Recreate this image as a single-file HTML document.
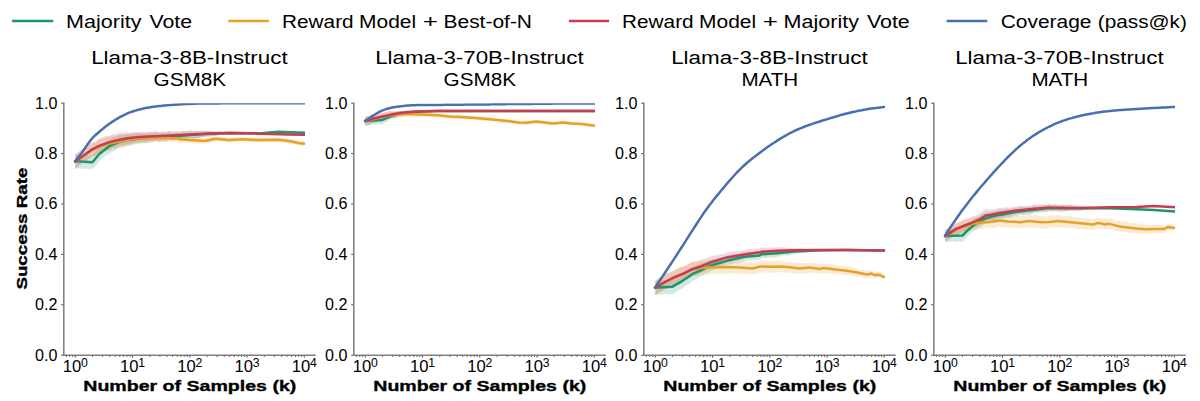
<!DOCTYPE html>
<html lang="en"><head><meta charset="utf-8"><title>Success rate vs number of samples</title>
<style>
html,body{margin:0;padding:0;background:#fff;}
body{width:1200px;height:401px;overflow:hidden;}
svg{display:block;}
text{font-family:"Liberation Sans",sans-serif;fill:#000;}
.lg{font-size:18.9px;}
.tt{font-size:18.9px;text-anchor:middle;}
.tk{font-size:15.8px;}
.sup{font-size:11.9px;}
.lb{font-size:15.2px;font-weight:bold;text-anchor:middle;stroke:#000;stroke-width:0.35px;}
</style></head><body>
<svg width="1200" height="401" viewBox="0 0 1200 401">
<rect width="1200" height="401" fill="#fff"/>
<g id="legend">
<line x1="12.1" y1="21.05" x2="53.3" y2="21.05" stroke="#1c966c" stroke-width="2.5"/>
<text class="lg" y="27.5" xml:space="default"><tspan x="66.1" textLength="75.4" lengthAdjust="spacingAndGlyphs">Majority</tspan> <tspan x="149.4" textLength="42.7" lengthAdjust="spacingAndGlyphs">Vote</tspan></text>
<line x1="228.35" y1="21.05" x2="269.05" y2="21.05" stroke="#e6a128" stroke-width="2.5"/>
<text class="lg" y="27.5" xml:space="default"><tspan x="282.1" textLength="71.5" lengthAdjust="spacingAndGlyphs">Reward</tspan> <tspan x="359.1" textLength="57.1" lengthAdjust="spacingAndGlyphs">Model</tspan> <tspan x="422.8" textLength="15.2" lengthAdjust="spacingAndGlyphs">+</tspan> <tspan x="443.5" textLength="88.5" lengthAdjust="spacingAndGlyphs">Best-of-N</tspan></text>
<line x1="568.85" y1="21.05" x2="609.05" y2="21.05" stroke="#c83c53" stroke-width="2.5"/>
<text class="lg" y="27.5" xml:space="default"><tspan x="622.1" textLength="71.5" lengthAdjust="spacingAndGlyphs">Reward</tspan> <tspan x="699.1" textLength="57.1" lengthAdjust="spacingAndGlyphs">Model</tspan> <tspan x="762.8" textLength="15.2" lengthAdjust="spacingAndGlyphs">+</tspan> <tspan x="783.6" textLength="75.4" lengthAdjust="spacingAndGlyphs">Majority</tspan> <tspan x="866.9" textLength="42.9" lengthAdjust="spacingAndGlyphs">Vote</tspan></text>
<line x1="946.6" y1="21.05" x2="987.3" y2="21.05" stroke="#4870b0" stroke-width="2.5"/>
<text class="lg" y="27.5" xml:space="default"><tspan x="1000.7" textLength="90.8" lengthAdjust="spacingAndGlyphs">Coverage</tspan> <tspan x="1097.8" textLength="89.1" lengthAdjust="spacingAndGlyphs">(pass@k)</tspan></text>
</g>
<g id="panel1">
<clipPath id="cp0"><rect x="63.8" y="103.2" width="252" height="252.0"/></clipPath>
<text class="tt" x="189.4" y="64.4" textLength="196.5" lengthAdjust="spacingAndGlyphs">Llama-3-8B-Instruct</text>
<text class="tt" x="189.8" y="86.1" textLength="72.6" lengthAdjust="spacingAndGlyphs">GSM8K</text>
<g clip-path="url(#cp0)" fill="none" stroke-linejoin="round" stroke-linecap="square">
<path d="M75.3,154.7 L78.7,154.3 L82.1,154.9 L85.5,154.2 L89.0,155.3 L92.4,155.1 L96.0,151.6 L99.6,146.4 L102.9,144.3 L106.2,141.1 L109.5,139.4 L112.8,137.5 L116.2,136.7 L119.5,134.9 L123.5,135.0 L127.5,133.9 L131.4,134.2 L135.4,133.2 L139.4,133.4 L142.7,133.3 L146.1,133.5 L149.4,132.7 L152.7,132.7 L156.0,132.1 L159.3,132.8 L162.7,132.2 L166.0,132.6 L169.3,131.5 L172.6,132.2 L175.9,131.7 L179.3,132.4 L182.7,131.4 L186.2,131.6 L189.6,130.8 L192.9,131.5 L196.3,131.1 L199.6,131.2 L202.9,130.7 L206.2,131.0 L209.6,131.2 L212.9,131.5 L216.2,131.5 L219.6,131.4 L222.9,131.7 L226.2,131.7 L229.6,131.9 L232.9,131.7 L236.2,131.9 L239.6,131.8 L242.9,132.2 L246.2,132.1 L249.5,132.5 L252.9,132.2 L256.2,132.5 L259.5,132.5 L262.9,132.4 L266.2,132.0 L269.5,131.8 L272.9,131.4 L276.2,131.3 L279.5,131.1 L282.8,131.3 L286.2,131.4 L289.5,131.5 L293.1,131.7 L296.7,131.9 L300.3,132.1 L303.8,132.2 L303.8,133.3 L300.3,133.3 L296.7,133.1 L293.1,133.0 L289.5,132.8 L286.2,132.7 L282.8,132.7 L279.5,132.5 L276.2,132.8 L272.9,132.9 L269.5,133.3 L266.2,133.6 L262.9,134.1 L259.5,134.1 L256.2,134.3 L252.9,134.1 L249.5,134.5 L246.2,134.3 L242.9,134.5 L239.6,134.2 L236.2,134.5 L232.9,134.4 L229.6,134.8 L226.2,134.6 L222.9,134.9 L219.6,135.1 L216.2,135.8 L212.9,136.3 L209.6,136.5 L206.2,136.8 L202.9,137.0 L199.6,138.1 L196.3,138.2 L192.9,138.8 L189.6,138.3 L186.2,139.2 L182.7,139.2 L179.3,140.5 L175.9,139.9 L172.6,140.6 L169.3,140.1 L166.0,141.3 L162.7,141.1 L159.3,141.8 L156.0,141.3 L152.7,142.1 L149.4,142.2 L146.1,143.2 L142.7,143.2 L139.4,143.5 L135.4,143.8 L131.4,145.4 L127.5,145.6 L123.5,147.3 L119.5,147.8 L116.2,150.1 L112.8,151.4 L109.5,153.4 L106.2,155.1 L102.9,158.3 L99.6,160.4 L96.0,165.6 L92.4,169.1 L89.0,169.3 L85.5,168.2 L82.1,168.9 L78.7,168.3 L75.3,168.7Z" fill="#1c966c" fill-opacity="0.2" stroke="none"/>
<path d="M75.3,154.8 L79.4,151.4 L83.6,148.6 L87.6,146.0 L91.5,143.4 L95.5,142.0 L99.5,139.1 L102.8,138.6 L106.1,137.0 L109.4,136.9 L112.7,135.7 L116.0,135.6 L119.4,134.5 L122.7,134.7 L126.0,134.3 L129.3,134.1 L132.6,133.7 L135.9,133.2 L139.2,133.3 L142.5,133.4 L145.8,133.9 L149.2,133.2 L152.5,133.5 L155.8,132.9 L159.1,133.9 L162.4,133.6 L165.7,134.3 L169.0,133.6 L172.3,134.4 L175.6,134.3 L179.0,135.3 L179.3,136.1 L182.6,135.7 L185.9,136.3 L189.2,136.1 L192.4,137.0 L195.6,137.3 L198.8,137.5 L201.9,137.7 L205.1,137.5 L208.4,137.6 L211.7,136.5 L215.0,136.4 L218.5,135.9 L222.0,136.8 L225.5,136.7 L229.0,137.9 L232.4,137.0 L235.9,137.2 L239.4,136.4 L242.9,137.0 L246.0,136.8 L249.2,137.5 L252.4,136.9 L255.6,137.4 L258.8,137.4 L262.1,137.7 L265.4,137.6 L268.7,137.3 L272.0,137.2 L275.3,137.1 L278.6,137.5 L282.6,137.9 L286.6,138.1 L290.5,138.9 L294.5,139.5 L298.5,140.9 L303.8,141.0 L303.8,145.8 L298.5,145.7 L294.5,144.3 L290.5,143.7 L286.6,143.0 L282.6,142.8 L278.6,142.4 L275.3,142.0 L272.0,142.2 L268.7,142.3 L265.4,142.6 L262.1,142.7 L258.8,142.4 L255.6,142.4 L252.4,142.0 L249.2,142.6 L246.0,141.9 L242.9,142.2 L239.4,141.5 L235.9,142.4 L232.4,142.3 L229.0,143.1 L225.5,142.0 L222.0,142.1 L218.5,141.3 L215.0,141.9 L211.7,142.2 L208.4,143.4 L205.1,143.5 L201.9,143.9 L198.8,143.8 L195.6,143.8 L192.4,143.6 L189.2,142.9 L185.9,143.2 L182.6,142.8 L179.3,143.5 L179.0,142.7 L175.6,141.9 L172.3,142.2 L169.0,141.5 L165.7,142.5 L162.4,141.9 L159.1,142.5 L155.8,141.7 L152.5,142.5 L149.2,142.4 L145.8,143.3 L142.5,143.1 L139.2,143.5 L135.9,143.8 L132.6,144.8 L129.3,145.7 L126.0,146.3 L122.7,147.1 L119.4,147.5 L116.0,149.0 L112.7,149.6 L109.4,150.9 L106.1,151.0 L102.8,152.6 L99.5,153.1 L95.5,156.0 L91.5,157.4 L87.6,160.0 L83.6,162.6 L79.4,165.4 L75.3,168.8Z" fill="#e6a128" fill-opacity="0.2" stroke="none"/>
<path d="M75.3,154.8 L79.4,151.3 L83.6,148.4 L87.6,145.5 L91.6,142.6 L95.6,141.2 L99.6,138.2 L102.9,137.6 L106.2,135.9 L109.5,135.7 L112.8,134.3 L116.2,134.1 L119.5,132.8 L122.8,133.0 L126.1,132.6 L129.5,132.5 L132.8,132.0 L136.1,131.7 L139.4,131.8 L142.7,131.8 L146.1,132.1 L149.4,131.5 L152.7,131.6 L156.0,131.1 L159.3,132.0 L162.7,131.3 L166.0,131.7 L169.3,130.7 L172.6,131.4 L175.9,130.9 L179.3,131.6 L182.7,130.7 L186.2,131.0 L189.6,130.3 L192.9,131.1 L196.3,130.7 L199.6,130.9 L202.9,130.4 L206.2,130.7 L209.6,131.0 L212.9,131.3 L216.2,131.4 L219.6,131.2 L222.9,131.6 L226.2,131.5 L229.6,131.8 L232.9,131.6 L236.2,131.9 L239.6,131.7 L242.9,132.2 L246.2,132.1 L249.5,132.5 L252.9,132.3 L256.2,132.7 L259.5,132.7 L262.9,133.1 L266.2,133.1 L269.5,133.3 L272.9,133.2 L276.2,133.5 L279.5,133.6 L282.8,133.7 L286.2,133.7 L289.5,133.8 L293.1,133.9 L296.7,134.1 L300.3,134.2 L303.8,134.2 L303.8,135.3 L300.3,135.3 L296.7,135.3 L293.1,135.2 L289.5,135.1 L286.2,135.1 L282.8,135.1 L279.5,135.0 L276.2,134.9 L272.9,134.7 L269.5,134.8 L266.2,134.7 L262.9,134.7 L259.5,134.4 L256.2,134.4 L252.9,134.2 L249.5,134.5 L246.2,134.3 L242.9,134.5 L239.6,134.1 L236.2,134.4 L232.9,134.3 L229.6,134.7 L226.2,134.5 L222.9,134.8 L219.6,135.0 L216.2,135.6 L212.9,136.1 L209.6,136.3 L206.2,136.6 L202.9,136.7 L199.6,137.7 L196.3,137.8 L192.9,138.4 L189.6,137.8 L186.2,138.6 L182.7,138.5 L179.3,139.7 L175.9,139.1 L172.6,139.7 L169.3,139.2 L166.0,140.4 L162.7,140.2 L159.3,141.0 L156.0,140.3 L152.7,141.0 L149.4,141.0 L146.1,141.9 L142.7,141.7 L139.4,141.9 L136.1,142.3 L132.8,143.0 L129.5,144.0 L126.1,144.6 L122.8,145.5 L119.5,145.7 L116.2,147.4 L112.8,148.2 L109.5,149.7 L106.2,149.9 L102.9,151.6 L99.6,152.2 L95.6,155.2 L91.6,156.6 L87.6,159.5 L83.6,162.4 L79.4,165.3 L75.3,168.8Z" fill="#c83c53" fill-opacity="0.2" stroke="none"/>
<path d="M75.3,161.2 L92.4,162.2 L99.6,153.8 L109.5,145.9 L119.5,141.9 L127.5,139.9 L139.4,138.5 L159.3,136.9 L179.3,135.9 L189.6,135.0 L209.6,133.8 L229.6,133.1 L249.5,133.3 L259.5,133.4 L269.5,132.5 L279.5,131.8 L289.5,132.2 L303.8,132.8" stroke="#1c966c" stroke-width="2.5"/>
<path d="M75.3,161.2 L83.6,155.7 L91.5,150.5 L99.5,146.5 L109.4,143.4 L119.4,141.5 L129.3,139.6 L139.2,138.4 L159.1,137.7 L179.0,138.5 L179.3,139.2 L189.2,139.9 L205.1,141.0 L215.0,138.7 L229.0,140.0 L242.9,139.3 L258.8,140.1 L278.6,139.7 L290.5,141.3 L298.5,142.9 L303.8,143.5" stroke="#e6a128" stroke-width="2.5"/>
<path d="M75.3,161.2 L83.6,155.5 L91.6,149.7 L99.6,145.7 L109.5,142.1 L119.5,139.8 L129.5,137.9 L139.4,136.9 L159.3,136.0 L179.3,135.1 L189.6,134.5 L209.6,133.6 L229.6,133.0 L249.5,133.3 L269.5,134.0 L289.5,134.5 L303.8,134.8" stroke="#c83c53" stroke-width="2.5"/>
<path d="M75.3,161.2 L77.3,158.6 L79.3,156.0 L81.3,153.4 L83.3,150.6 L85.3,147.7 L87.3,144.8 L89.3,142.0 L91.3,139.4 L93.3,137.2 L95.3,135.2 L97.3,133.5 L99.3,131.7 L101.3,130.1 L103.3,128.4 L105.3,126.8 L107.3,125.3 L109.3,123.8 L111.3,122.4 L113.4,121.1 L115.4,119.8 L117.4,118.6 L119.4,117.4 L121.4,116.3 L123.4,115.3 L125.4,114.3 L127.4,113.4 L129.4,112.6 L131.4,111.9 L133.4,111.2 L135.4,110.6 L137.4,110.0 L139.4,109.5 L141.4,109.0 L143.4,108.5 L145.4,108.1 L147.4,107.7 L149.4,107.4 L151.5,107.1 L153.5,106.8 L155.5,106.6 L157.5,106.3 L159.5,106.1 L161.5,105.9 L163.5,105.6 L165.5,105.4 L167.5,105.2 L169.5,105.1 L171.5,104.9 L173.5,104.8 L175.5,104.7 L177.5,104.6 L179.5,104.5 L181.5,104.3 L183.5,104.2 L185.5,104.1 L187.5,103.9 L189.5,103.9 L191.6,103.8 L193.6,103.7 L195.6,103.7 L197.6,103.6 L199.6,103.6 L201.6,103.5 L203.6,103.5 L205.6,103.5 L207.6,103.5 L209.6,103.4 L211.6,103.4 L213.6,103.4 L215.6,103.4 L217.6,103.4 L219.6,103.4 L221.6,103.3 L223.6,103.3 L225.6,103.3 L227.6,103.3 L229.7,103.3 L231.7,103.3 L233.7,103.3 L235.7,103.3 L237.7,103.3 L239.7,103.3 L241.7,103.3 L243.7,103.3 L245.7,103.3 L247.7,103.3 L249.7,103.3 L251.7,103.3 L253.7,103.3 L255.7,103.3 L257.7,103.3 L259.7,103.3 L261.7,103.3 L263.7,103.3 L265.7,103.3 L267.8,103.2 L269.8,103.2 L271.8,103.2 L273.8,103.2 L275.8,103.2 L277.8,103.2 L279.8,103.2 L281.8,103.2 L283.8,103.2 L285.8,103.2 L287.8,103.2 L289.8,103.2 L291.8,103.2 L293.8,103.2 L295.8,103.2 L297.8,103.2 L299.8,103.2 L301.8,103.2 L303.8,103.2" stroke="#4870b0" stroke-width="2.5"/>
</g>
<line x1="63.8" y1="102.50" x2="63.8" y2="355.98" stroke="#808080" stroke-width="1.55"/>
<line x1="63.02" y1="355.2" x2="315.80" y2="355.2" stroke="#808080" stroke-width="1.55"/>
<line x1="61.2" y1="355.20" x2="63.1" y2="355.20" stroke="#222" stroke-width="0.8"/>
<text class="tk" x="35.1" y="360.6" textLength="22.4" lengthAdjust="spacingAndGlyphs">0.0</text>
<line x1="61.2" y1="304.80" x2="63.1" y2="304.80" stroke="#222" stroke-width="0.8"/>
<text class="tk" x="35.1" y="310.2" textLength="22.4" lengthAdjust="spacingAndGlyphs">0.2</text>
<line x1="61.2" y1="254.40" x2="63.1" y2="254.40" stroke="#222" stroke-width="0.8"/>
<text class="tk" x="35.1" y="259.8" textLength="22.4" lengthAdjust="spacingAndGlyphs">0.4</text>
<line x1="61.2" y1="204.00" x2="63.1" y2="204.00" stroke="#222" stroke-width="0.8"/>
<text class="tk" x="35.1" y="209.4" textLength="22.4" lengthAdjust="spacingAndGlyphs">0.6</text>
<line x1="61.2" y1="153.60" x2="63.1" y2="153.60" stroke="#222" stroke-width="0.8"/>
<text class="tk" x="35.1" y="159.0" textLength="22.4" lengthAdjust="spacingAndGlyphs">0.8</text>
<line x1="61.2" y1="103.20" x2="63.1" y2="103.20" stroke="#222" stroke-width="0.8"/>
<text class="tk" x="35.1" y="108.6" textLength="22.4" lengthAdjust="spacingAndGlyphs">1.0</text>
<line x1="75.3" y1="355.90" x2="75.3" y2="357.60" stroke="#222" stroke-width="0.8"/>
<text class="tk" x="62.8" y="372.4" textLength="18.5" lengthAdjust="spacingAndGlyphs">10</text>
<text class="sup" x="81.0" y="366.7" textLength="6.8" lengthAdjust="spacingAndGlyphs">0</text>
<line x1="132.5" y1="355.90" x2="132.5" y2="357.60" stroke="#222" stroke-width="0.8"/>
<text class="tk" x="120.0" y="372.4" textLength="18.5" lengthAdjust="spacingAndGlyphs">10</text>
<text class="sup" x="138.2" y="366.7" textLength="6.8" lengthAdjust="spacingAndGlyphs">1</text>
<line x1="189.8" y1="355.90" x2="189.8" y2="357.60" stroke="#222" stroke-width="0.8"/>
<text class="tk" x="177.3" y="372.4" textLength="18.5" lengthAdjust="spacingAndGlyphs">10</text>
<text class="sup" x="195.5" y="366.7" textLength="6.8" lengthAdjust="spacingAndGlyphs">2</text>
<line x1="247.1" y1="355.90" x2="247.1" y2="357.60" stroke="#222" stroke-width="0.8"/>
<text class="tk" x="234.6" y="372.4" textLength="18.5" lengthAdjust="spacingAndGlyphs">10</text>
<text class="sup" x="252.8" y="366.7" textLength="6.8" lengthAdjust="spacingAndGlyphs">3</text>
<line x1="304.3" y1="355.90" x2="304.3" y2="357.60" stroke="#222" stroke-width="0.8"/>
<text class="tk" x="291.8" y="372.4" textLength="18.5" lengthAdjust="spacingAndGlyphs">10</text>
<text class="sup" x="310.0" y="366.7" textLength="6.8" lengthAdjust="spacingAndGlyphs">4</text>
<path d="M66.4,355.90v1.1M69.7,355.90v1.1M72.6,355.90v1.1M92.5,355.90v1.1M102.6,355.90v1.1M109.7,355.90v1.1M115.3,355.90v1.1M119.8,355.90v1.1M123.7,355.90v1.1M127.0,355.90v1.1M129.9,355.90v1.1M149.8,355.90v1.1M159.9,355.90v1.1M167.0,355.90v1.1M172.6,355.90v1.1M177.1,355.90v1.1M180.9,355.90v1.1M184.2,355.90v1.1M187.2,355.90v1.1M207.0,355.90v1.1M217.1,355.90v1.1M224.3,355.90v1.1M229.8,355.90v1.1M234.4,355.90v1.1M238.2,355.90v1.1M241.5,355.90v1.1M244.5,355.90v1.1M264.3,355.90v1.1M274.4,355.90v1.1M281.6,355.90v1.1M287.1,355.90v1.1M291.6,355.90v1.1M295.5,355.90v1.1M298.8,355.90v1.1M301.7,355.90v1.1" stroke="#222" stroke-width="0.7" fill="none"/>
<text class="lb" x="189.8" y="391.4" textLength="213" lengthAdjust="spacingAndGlyphs">Number of Samples (k)</text>
</g>
<g id="panel2">
<clipPath id="cp1"><rect x="353.8" y="103.2" width="252" height="252.0"/></clipPath>
<text class="tt" x="479.4" y="64.4" textLength="208.5" lengthAdjust="spacingAndGlyphs">Llama-3-70B-Instruct</text>
<text class="tt" x="479.8" y="86.1" textLength="72.6" lengthAdjust="spacingAndGlyphs">GSM8K</text>
<g clip-path="url(#cp1)" fill="none" stroke-linejoin="round" stroke-linecap="square">
<path d="M365.3,116.4 L368.7,116.8 L372.1,115.7 L375.5,116.2 L379.0,115.7 L382.4,116.5 L386.7,114.1 L391.1,112.6 L395.4,112.2 L399.8,111.0 L402.9,111.3 L406.0,110.5 L409.1,110.6 L412.2,110.4 L415.3,110.4 L418.4,110.4 L421.5,110.0 L424.6,110.1 L427.7,109.9 L430.8,110.3 L433.9,110.2 L437.0,110.3 L440.2,110.3 L443.4,110.4 L446.6,110.5 L449.7,110.5 L452.9,110.6 L456.1,110.4 L459.3,110.5 L459.5,110.5 L462.6,110.5 L465.6,110.6 L468.7,110.5 L471.8,110.6 L474.8,110.5 L477.9,110.5 L480.9,110.6 L484.0,110.6 L487.0,110.7 L490.1,110.5 L493.1,110.6 L496.2,110.6 L499.2,110.7 L502.3,110.7 L505.3,110.6 L508.4,110.7 L511.4,110.6 L514.5,110.7 L517.5,110.7 L520.6,110.7 L523.6,110.7 L526.7,110.7 L529.7,110.7 L532.8,110.7 L535.9,110.8 L538.9,110.7 L542.0,110.7 L545.0,110.7 L548.1,110.7 L551.1,110.8 L554.2,110.8 L557.2,110.8 L560.3,110.7 L563.3,110.8 L566.4,110.8 L569.4,110.8 L572.5,110.8 L575.5,110.8 L578.6,110.8 L581.6,110.8 L584.7,110.9 L587.7,110.8 L590.8,110.9 L593.8,110.8 L593.8,111.2 L590.8,111.2 L587.7,111.2 L584.7,111.3 L581.6,111.2 L578.6,111.3 L575.5,111.2 L572.5,111.3 L569.4,111.3 L566.4,111.3 L563.3,111.3 L560.3,111.2 L557.2,111.3 L554.2,111.3 L551.1,111.4 L548.1,111.3 L545.0,111.3 L542.0,111.4 L538.9,111.3 L535.9,111.4 L532.8,111.3 L529.7,111.4 L526.7,111.3 L523.6,111.4 L520.6,111.4 L517.5,111.4 L514.5,111.5 L511.4,111.3 L508.4,111.4 L505.3,111.4 L502.3,111.5 L499.2,111.5 L496.2,111.4 L493.1,111.5 L490.1,111.4 L487.0,111.6 L484.0,111.5 L480.9,111.5 L477.9,111.4 L474.8,111.5 L471.8,111.5 L468.7,111.5 L465.6,111.6 L462.6,111.5 L459.5,111.6 L459.3,111.5 L456.1,111.5 L452.9,111.6 L449.7,111.6 L446.6,111.6 L443.4,111.6 L440.2,111.7 L437.0,111.9 L433.9,112.0 L430.8,112.2 L427.7,112.1 L424.6,112.4 L421.5,112.5 L418.4,113.1 L415.3,113.3 L412.2,113.4 L409.1,114.1 L406.0,114.6 L402.9,115.9 L399.8,116.2 L395.4,118.2 L391.1,119.3 L386.7,121.7 L382.4,124.6 L379.0,124.0 L375.5,124.7 L372.1,124.4 L368.7,125.6 L365.3,125.4Z" fill="#1c966c" fill-opacity="0.2" stroke="none"/>
<path d="M365.3,116.4 L368.5,116.3 L371.7,114.6 L374.9,114.5 L378.7,113.3 L382.4,113.3 L386.7,112.0 L391.1,111.3 L394.8,111.6 L398.5,111.5 L402.3,111.8 L405.4,111.3 L408.5,111.5 L411.6,111.9 L414.7,111.9 L417.8,112.4 L420.9,111.9 L424.0,112.4 L427.1,112.0 L430.4,112.9 L433.7,112.8 L437.1,113.2 L440.2,113.1 L443.3,113.5 L446.4,114.1 L449.5,114.4 L452.8,114.9 L456.1,114.5 L459.4,115.0 L459.6,114.9 L462.8,114.8 L465.9,115.7 L469.0,115.5 L472.1,115.9 L475.2,115.8 L478.3,116.2 L481.4,116.6 L484.5,116.8 L487.7,117.3 L490.8,117.1 L493.9,117.8 L497.0,117.8 L500.1,118.7 L503.2,118.7 L506.3,119.0 L509.4,119.2 L513.8,120.0 L518.2,120.5 L522.5,120.9 L526.9,120.6 L531.2,120.2 L535.6,120.1 L539.9,120.0 L544.3,120.5 L548.7,121.3 L553.0,121.6 L556.3,121.5 L559.7,120.7 L563.0,120.7 L567.3,121.0 L571.7,121.9 L575.0,121.6 L578.3,122.0 L581.6,121.9 L585.4,123.0 L589.1,123.1 L593.8,123.6 L593.8,127.2 L589.1,126.8 L585.4,126.6 L581.6,125.6 L578.3,125.7 L575.0,125.3 L571.7,125.6 L567.3,124.7 L563.0,124.4 L559.7,124.4 L556.3,125.3 L553.0,125.3 L548.7,125.0 L544.3,124.3 L539.9,123.8 L535.6,123.9 L531.2,124.0 L526.9,124.5 L522.5,124.8 L518.2,124.4 L513.8,123.9 L509.4,123.1 L506.3,122.9 L503.2,122.6 L500.1,122.6 L497.0,121.7 L493.9,121.7 L490.8,121.0 L487.7,121.3 L484.5,120.8 L481.4,120.6 L478.3,120.1 L475.2,119.7 L472.1,119.9 L469.0,119.5 L465.9,119.7 L462.8,118.8 L459.6,118.9 L459.4,119.0 L456.1,118.5 L452.8,119.0 L449.5,118.5 L446.4,118.4 L443.3,117.8 L440.2,117.5 L437.1,117.6 L433.7,117.3 L430.4,117.4 L427.1,116.6 L424.0,117.1 L420.9,116.6 L417.8,117.3 L414.7,116.8 L411.6,116.8 L408.5,116.8 L405.4,116.9 L402.3,117.7 L398.5,117.9 L394.8,118.4 L391.1,118.5 L386.7,119.7 L382.4,121.5 L378.7,121.6 L374.9,123.1 L371.7,123.3 L368.5,125.1 L365.3,125.4Z" fill="#e6a128" fill-opacity="0.2" stroke="none"/>
<path d="M365.3,116.4 L368.5,116.1 L371.7,114.3 L374.9,114.0 L378.7,112.8 L382.4,113.0 L386.7,111.6 L391.1,110.9 L394.8,111.0 L398.5,110.7 L402.2,110.7 L405.3,110.2 L408.4,110.3 L411.5,110.4 L414.6,110.2 L417.8,110.5 L421.0,110.1 L424.2,110.3 L427.4,110.1 L430.6,110.4 L433.8,110.3 L437.0,110.4 L440.2,110.3 L443.4,110.4 L446.6,110.5 L449.7,110.5 L452.9,110.6 L456.1,110.5 L459.3,110.5 L459.5,110.5 L462.6,110.5 L465.6,110.6 L468.7,110.5 L471.8,110.6 L474.8,110.5 L477.9,110.5 L480.9,110.6 L484.0,110.6 L487.0,110.7 L490.1,110.5 L493.1,110.6 L496.2,110.6 L499.2,110.7 L502.3,110.7 L505.3,110.6 L508.4,110.7 L511.4,110.6 L514.5,110.7 L517.5,110.7 L520.6,110.7 L523.6,110.7 L526.7,110.7 L529.7,110.7 L532.8,110.7 L535.9,110.8 L538.9,110.7 L542.0,110.7 L545.0,110.7 L548.1,110.7 L551.1,110.8 L554.2,110.8 L557.2,110.8 L560.3,110.7 L563.3,110.8 L566.4,110.8 L569.4,110.8 L572.5,110.8 L575.5,110.8 L578.6,110.8 L581.6,110.8 L584.7,110.9 L587.7,110.8 L590.8,110.9 L593.8,110.8 L593.8,111.2 L590.8,111.2 L587.7,111.2 L584.7,111.3 L581.6,111.2 L578.6,111.3 L575.5,111.2 L572.5,111.3 L569.4,111.3 L566.4,111.3 L563.3,111.3 L560.3,111.2 L557.2,111.3 L554.2,111.3 L551.1,111.4 L548.1,111.3 L545.0,111.3 L542.0,111.4 L538.9,111.3 L535.9,111.4 L532.8,111.3 L529.7,111.4 L526.7,111.3 L523.6,111.4 L520.6,111.4 L517.5,111.4 L514.5,111.5 L511.4,111.3 L508.4,111.4 L505.3,111.4 L502.3,111.5 L499.2,111.5 L496.2,111.4 L493.1,111.5 L490.1,111.4 L487.0,111.6 L484.0,111.5 L480.9,111.5 L477.9,111.4 L474.8,111.5 L471.8,111.5 L468.7,111.5 L465.6,111.6 L462.6,111.5 L459.5,111.6 L459.3,111.5 L456.1,111.5 L452.9,111.6 L449.7,111.6 L446.6,111.6 L443.4,111.6 L440.2,111.7 L437.0,112.0 L433.8,112.1 L430.6,112.4 L427.4,112.3 L424.2,112.7 L421.0,112.7 L417.8,113.2 L414.6,113.2 L411.5,113.5 L408.4,113.9 L405.3,114.4 L402.2,115.4 L398.5,116.1 L394.8,117.0 L391.1,117.7 L386.7,119.1 L382.4,121.1 L378.7,121.2 L374.9,122.6 L371.7,123.0 L368.5,124.9 L365.3,125.4Z" fill="#c83c53" fill-opacity="0.2" stroke="none"/>
<path d="M365.3,120.9 L382.4,119.9 L391.1,116.2 L399.8,113.7 L412.2,112.0 L424.6,111.2 L437.0,111.0 L459.3,111.0 L459.5,111.0 L593.8,111.0" stroke="#1c966c" stroke-width="2.5"/>
<path d="M365.3,120.9 L374.9,118.7 L382.4,116.8 L391.1,115.2 L402.3,114.3 L414.7,114.3 L427.1,114.7 L437.1,115.2 L449.5,116.5 L459.4,117.0 L459.6,116.9 L472.1,117.8 L484.5,118.8 L497.0,120.0 L509.4,121.2 L518.2,122.5 L526.9,122.8 L535.6,121.6 L544.3,122.5 L553.0,123.5 L563.0,122.5 L571.7,123.5 L581.6,124.0 L589.1,125.0 L593.8,125.6" stroke="#e6a128" stroke-width="2.5"/>
<path d="M365.3,120.9 L374.9,118.2 L382.4,116.5 L391.1,114.6 L402.2,112.7 L414.6,111.7 L437.0,111.1 L459.3,111.0 L459.5,111.0 L593.8,111.0" stroke="#c83c53" stroke-width="2.5"/>
<path d="M365.3,120.9 L367.3,119.5 L369.3,118.2 L371.3,116.9 L373.3,115.6 L375.3,114.2 L377.3,113.0 L379.3,111.8 L381.3,110.9 L383.3,110.1 L385.3,109.4 L387.3,108.7 L389.3,108.2 L391.3,107.7 L393.3,107.3 L395.3,107.0 L397.3,106.7 L399.3,106.4 L401.3,106.2 L403.4,106.0 L405.4,105.8 L407.4,105.6 L409.4,105.5 L411.4,105.3 L413.4,105.2 L415.4,105.2 L417.4,105.1 L419.4,105.1 L421.4,105.1 L423.4,105.0 L425.4,105.0 L427.4,105.0 L429.4,105.0 L431.4,105.0 L433.4,104.9 L435.4,104.9 L437.4,104.9 L439.4,104.9 L441.5,104.9 L443.5,104.8 L445.5,104.8 L447.5,104.8 L449.5,104.8 L451.5,104.8 L453.5,104.7 L455.5,104.7 L457.5,104.7 L459.5,104.7 L461.5,104.7 L463.5,104.7 L465.5,104.6 L467.5,104.6 L469.5,104.6 L471.5,104.6 L473.5,104.6 L475.5,104.5 L477.5,104.5 L479.5,104.5 L481.6,104.5 L483.6,104.4 L485.6,104.4 L487.6,104.4 L489.6,104.4 L491.6,104.3 L493.6,104.3 L495.6,104.3 L497.6,104.3 L499.6,104.2 L501.6,104.2 L503.6,104.2 L505.6,104.2 L507.6,104.1 L509.6,104.1 L511.6,104.1 L513.6,104.1 L515.6,104.0 L517.6,104.0 L519.7,104.0 L521.7,104.0 L523.7,104.0 L525.7,103.9 L527.7,103.9 L529.7,103.9 L531.7,103.9 L533.7,103.8 L535.7,103.8 L537.7,103.8 L539.7,103.8 L541.7,103.8 L543.7,103.7 L545.7,103.7 L547.7,103.7 L549.7,103.7 L551.7,103.7 L553.7,103.6 L555.7,103.6 L557.8,103.6 L559.8,103.6 L561.8,103.6 L563.8,103.6 L565.8,103.6 L567.8,103.5 L569.8,103.5 L571.8,103.5 L573.8,103.5 L575.8,103.5 L577.8,103.5 L579.8,103.5 L581.8,103.5 L583.8,103.4 L585.8,103.4 L587.8,103.4 L589.8,103.4 L591.8,103.4 L593.8,103.4" stroke="#4870b0" stroke-width="2.5"/>
</g>
<line x1="353.8" y1="102.50" x2="353.8" y2="355.98" stroke="#808080" stroke-width="1.55"/>
<line x1="353.02" y1="355.2" x2="605.80" y2="355.2" stroke="#808080" stroke-width="1.55"/>
<line x1="351.2" y1="355.20" x2="353.1" y2="355.20" stroke="#222" stroke-width="0.8"/>
<text class="tk" x="325.1" y="360.6" textLength="22.4" lengthAdjust="spacingAndGlyphs">0.0</text>
<line x1="351.2" y1="304.80" x2="353.1" y2="304.80" stroke="#222" stroke-width="0.8"/>
<text class="tk" x="325.1" y="310.2" textLength="22.4" lengthAdjust="spacingAndGlyphs">0.2</text>
<line x1="351.2" y1="254.40" x2="353.1" y2="254.40" stroke="#222" stroke-width="0.8"/>
<text class="tk" x="325.1" y="259.8" textLength="22.4" lengthAdjust="spacingAndGlyphs">0.4</text>
<line x1="351.2" y1="204.00" x2="353.1" y2="204.00" stroke="#222" stroke-width="0.8"/>
<text class="tk" x="325.1" y="209.4" textLength="22.4" lengthAdjust="spacingAndGlyphs">0.6</text>
<line x1="351.2" y1="153.60" x2="353.1" y2="153.60" stroke="#222" stroke-width="0.8"/>
<text class="tk" x="325.1" y="159.0" textLength="22.4" lengthAdjust="spacingAndGlyphs">0.8</text>
<line x1="351.2" y1="103.20" x2="353.1" y2="103.20" stroke="#222" stroke-width="0.8"/>
<text class="tk" x="325.1" y="108.6" textLength="22.4" lengthAdjust="spacingAndGlyphs">1.0</text>
<line x1="365.3" y1="355.90" x2="365.3" y2="357.60" stroke="#222" stroke-width="0.8"/>
<text class="tk" x="352.8" y="372.4" textLength="18.5" lengthAdjust="spacingAndGlyphs">10</text>
<text class="sup" x="371.0" y="366.7" textLength="6.8" lengthAdjust="spacingAndGlyphs">0</text>
<line x1="422.5" y1="355.90" x2="422.5" y2="357.60" stroke="#222" stroke-width="0.8"/>
<text class="tk" x="410.0" y="372.4" textLength="18.5" lengthAdjust="spacingAndGlyphs">10</text>
<text class="sup" x="428.2" y="366.7" textLength="6.8" lengthAdjust="spacingAndGlyphs">1</text>
<line x1="479.8" y1="355.90" x2="479.8" y2="357.60" stroke="#222" stroke-width="0.8"/>
<text class="tk" x="467.3" y="372.4" textLength="18.5" lengthAdjust="spacingAndGlyphs">10</text>
<text class="sup" x="485.5" y="366.7" textLength="6.8" lengthAdjust="spacingAndGlyphs">2</text>
<line x1="537.1" y1="355.90" x2="537.1" y2="357.60" stroke="#222" stroke-width="0.8"/>
<text class="tk" x="524.6" y="372.4" textLength="18.5" lengthAdjust="spacingAndGlyphs">10</text>
<text class="sup" x="542.8" y="366.7" textLength="6.8" lengthAdjust="spacingAndGlyphs">3</text>
<line x1="594.3" y1="355.90" x2="594.3" y2="357.60" stroke="#222" stroke-width="0.8"/>
<text class="tk" x="581.8" y="372.4" textLength="18.5" lengthAdjust="spacingAndGlyphs">10</text>
<text class="sup" x="600.0" y="366.7" textLength="6.8" lengthAdjust="spacingAndGlyphs">4</text>
<path d="M356.4,355.90v1.1M359.7,355.90v1.1M362.6,355.90v1.1M382.5,355.90v1.1M392.6,355.90v1.1M399.7,355.90v1.1M405.3,355.90v1.1M409.8,355.90v1.1M413.7,355.90v1.1M417.0,355.90v1.1M419.9,355.90v1.1M439.8,355.90v1.1M449.9,355.90v1.1M457.0,355.90v1.1M462.6,355.90v1.1M467.1,355.90v1.1M470.9,355.90v1.1M474.2,355.90v1.1M477.2,355.90v1.1M497.0,355.90v1.1M507.1,355.90v1.1M514.3,355.90v1.1M519.8,355.90v1.1M524.4,355.90v1.1M528.2,355.90v1.1M531.5,355.90v1.1M534.5,355.90v1.1M554.3,355.90v1.1M564.4,355.90v1.1M571.6,355.90v1.1M577.1,355.90v1.1M581.6,355.90v1.1M585.5,355.90v1.1M588.8,355.90v1.1M591.7,355.90v1.1" stroke="#222" stroke-width="0.7" fill="none"/>
<text class="lb" x="479.8" y="391.4" textLength="213" lengthAdjust="spacingAndGlyphs">Number of Samples (k)</text>
</g>
<g id="panel3">
<clipPath id="cp2"><rect x="643.8" y="103.2" width="252" height="252.0"/></clipPath>
<text class="tt" x="769.4" y="64.4" textLength="196.5" lengthAdjust="spacingAndGlyphs">Llama-3-8B-Instruct</text>
<text class="tt" x="769.8" y="86.1" textLength="56.8" lengthAdjust="spacingAndGlyphs">MATH</text>
<g clip-path="url(#cp2)" fill="none" stroke-linejoin="round" stroke-linecap="square">
<path d="M655.3,280.9 L658.7,280.0 L662.1,280.1 L665.6,279.4 L669.0,280.2 L672.5,279.5 L675.8,277.9 L679.2,275.0 L682.6,273.8 L685.7,271.2 L688.9,269.8 L692.1,266.9 L696.5,265.5 L700.8,263.5 L705.2,262.1 L709.5,260.3 L713.0,258.7 L716.5,258.5 L719.9,257.5 L723.4,257.1 L726.9,255.4 L730.4,255.0 L733.9,254.0 L737.3,254.1 L740.8,253.0 L744.3,252.5 L747.3,251.8 L750.4,251.7 L753.4,252.0 L756.5,251.5 L759.5,251.8 L761.7,249.9 L764.7,249.9 L767.8,249.9 L770.8,249.8 L773.9,250.3 L776.9,249.4 L780.4,249.7 L783.8,248.9 L787.3,249.8 L790.8,249.2 L794.3,249.5 L797.5,248.9 L800.8,249.5 L804.1,249.4 L807.3,249.7 L810.6,249.2 L813.8,249.2 L817.1,249.0 L820.4,249.0 L823.6,249.2 L826.9,249.1 L830.2,249.2 L833.4,249.0 L836.7,249.3 L839.9,249.2 L843.2,249.4 L846.5,249.1 L849.6,249.3 L852.7,249.3 L855.8,249.5 L858.9,249.6 L862.0,249.6 L865.2,249.6 L868.3,249.6 L871.4,249.8 L874.5,249.8 L877.6,250.0 L880.7,249.9 L883.8,250.0 L883.8,251.2 L880.7,251.1 L877.6,251.2 L874.5,251.1 L871.4,251.2 L868.3,250.9 L865.2,251.0 L862.0,251.0 L858.9,251.0 L855.8,251.0 L852.7,250.8 L849.6,250.9 L846.5,250.8 L843.2,251.1 L839.9,250.9 L836.7,251.1 L833.4,251.0 L830.2,251.2 L826.9,251.3 L823.6,251.5 L820.4,251.5 L817.1,251.6 L813.8,251.9 L810.6,252.1 L807.3,252.7 L804.1,252.5 L800.8,253.2 L797.5,253.1 L794.3,254.2 L790.8,254.5 L787.3,255.6 L783.8,255.3 L780.4,256.6 L776.9,256.7 L773.9,257.8 L770.8,257.5 L767.8,257.7 L764.7,257.9 L761.7,258.0 L759.5,260.0 L756.5,259.9 L753.4,260.6 L750.4,260.4 L747.3,260.6 L744.3,261.5 L740.8,262.2 L737.3,263.5 L733.9,263.6 L730.4,264.8 L726.9,265.4 L723.4,267.3 L719.9,267.8 L716.5,269.3 L713.0,270.0 L709.5,272.1 L705.2,274.5 L700.8,276.5 L696.5,279.2 L692.1,281.2 L688.9,284.2 L685.7,285.6 L682.6,288.2 L679.2,289.4 L675.8,292.3 L672.5,293.9 L669.0,294.6 L665.6,293.8 L662.1,294.5 L658.7,294.4 L655.3,295.3Z" fill="#1c966c" fill-opacity="0.2" stroke="none"/>
<path d="M655.3,280.9 L658.9,278.1 L662.5,276.3 L666.1,274.0 L670.4,272.3 L674.8,270.3 L679.1,267.4 L683.5,266.2 L687.8,264.4 L692.2,261.9 L696.6,261.7 L700.9,260.9 L705.3,261.2 L709.6,261.1 L713.0,260.2 L716.4,260.7 L719.8,260.5 L723.5,261.2 L727.3,260.5 L731.0,261.0 L734.8,260.7 L738.3,261.9 L741.9,261.4 L745.5,262.1 L749.1,261.6 L752.7,262.8 L756.5,261.4 L760.2,260.8 L763.4,260.1 L766.5,260.9 L769.7,260.6 L773.0,261.5 L776.3,260.6 L779.7,260.9 L783.0,260.6 L786.3,261.7 L789.7,261.7 L793.0,262.5 L796.3,262.4 L799.6,263.0 L803.0,262.9 L806.3,262.9 L809.6,262.6 L813.0,262.7 L816.3,263.5 L819.6,263.9 L823.6,263.5 L827.6,264.0 L831.6,263.9 L835.6,265.2 L839.6,265.4 L844.6,266.3 L847.9,266.5 L851.2,267.3 L854.5,267.8 L857.9,269.2 L861.2,269.3 L864.5,270.3 L868.5,270.4 L871.5,270.4 L874.5,271.7 L879.5,272.0 L883.8,274.2 L883.8,279.3 L879.5,277.7 L874.5,278.1 L871.5,277.3 L868.5,277.8 L864.5,278.0 L861.2,277.1 L857.9,277.1 L854.5,275.9 L851.2,275.6 L847.9,274.9 L844.6,275.0 L839.6,274.3 L835.6,274.2 L831.6,273.2 L827.6,273.4 L823.6,273.1 L819.6,273.6 L816.3,273.4 L813.0,272.8 L809.6,272.8 L806.3,273.2 L803.0,273.4 L799.6,273.7 L796.3,273.2 L793.0,273.4 L789.7,272.7 L786.3,272.8 L783.0,271.9 L779.7,272.4 L776.3,272.2 L773.0,273.1 L769.7,272.4 L766.5,272.8 L763.4,272.1 L760.2,272.8 L756.5,273.5 L752.7,274.9 L749.1,273.8 L745.5,274.3 L741.9,273.7 L738.3,274.3 L734.8,273.1 L731.0,273.6 L727.3,273.1 L723.5,273.9 L719.8,273.4 L716.4,273.8 L713.0,273.5 L709.6,274.5 L705.3,274.8 L700.9,274.8 L696.6,275.8 L692.2,276.2 L687.8,278.8 L683.5,280.6 L679.1,281.8 L674.8,284.7 L670.4,286.7 L666.1,288.4 L662.5,290.7 L658.9,292.5 L655.3,295.3Z" fill="#e6a128" fill-opacity="0.2" stroke="none"/>
<path d="M655.3,280.9 L658.8,278.1 L662.4,276.3 L666.0,274.0 L670.4,272.3 L674.7,270.3 L679.1,267.6 L683.4,266.6 L687.8,264.5 L692.1,261.9 L696.5,261.1 L700.8,259.7 L705.2,258.7 L709.5,257.2 L713.0,255.6 L716.5,255.4 L719.9,254.3 L723.4,253.9 L726.9,252.2 L730.4,251.9 L733.9,251.1 L737.3,251.4 L740.8,250.4 L744.3,250.1 L747.3,249.2 L750.4,249.0 L753.4,249.1 L756.5,248.4 L759.5,248.5 L761.7,247.5 L764.7,247.5 L767.8,247.5 L770.8,247.4 L773.9,247.8 L776.9,246.9 L780.4,247.4 L783.8,246.9 L787.3,248.1 L790.8,247.7 L794.3,248.3 L797.5,247.8 L800.8,248.5 L804.1,248.5 L807.3,249.0 L810.6,248.7 L813.8,248.8 L817.1,248.7 L820.4,248.9 L823.6,249.0 L826.9,249.0 L830.2,249.1 L833.4,249.0 L836.7,249.3 L839.9,249.2 L843.2,249.4 L846.5,249.1 L849.6,249.3 L852.7,249.3 L855.8,249.5 L858.9,249.6 L862.0,249.6 L865.2,249.6 L868.3,249.6 L871.4,249.8 L874.5,249.8 L877.6,250.0 L880.7,249.9 L883.8,250.0 L883.8,251.2 L880.7,251.1 L877.6,251.2 L874.5,251.1 L871.4,251.2 L868.3,250.9 L865.2,251.0 L862.0,251.0 L858.9,251.0 L855.8,251.0 L852.7,250.8 L849.6,250.9 L846.5,250.8 L843.2,251.1 L839.9,250.9 L836.7,251.0 L833.4,250.9 L830.2,251.1 L826.9,251.2 L823.6,251.4 L820.4,251.3 L817.1,251.3 L813.8,251.5 L810.6,251.6 L807.3,252.0 L804.1,251.7 L800.8,252.2 L797.5,252.0 L794.3,253.0 L790.8,253.0 L787.3,253.9 L783.8,253.3 L780.4,254.3 L776.9,254.2 L773.9,255.3 L770.8,255.0 L767.8,255.2 L764.7,255.4 L761.7,255.6 L759.5,256.7 L756.5,256.8 L753.4,257.7 L750.4,257.7 L747.3,258.1 L744.3,259.1 L740.8,259.7 L737.3,260.8 L733.9,260.7 L730.4,261.7 L726.9,262.1 L723.4,264.1 L719.9,264.7 L716.5,266.2 L713.0,266.9 L709.5,269.0 L705.2,271.1 L700.8,272.7 L696.5,274.8 L692.1,276.2 L687.8,278.9 L683.4,281.0 L679.1,282.0 L674.7,284.7 L670.4,286.7 L666.0,288.4 L662.4,290.7 L658.8,292.5 L655.3,295.3Z" fill="#c83c53" fill-opacity="0.2" stroke="none"/>
<path d="M655.3,287.6 L672.5,286.7 L682.6,280.8 L692.1,274.2 L700.8,270.3 L709.5,265.9 L726.9,260.7 L744.3,256.8 L759.5,255.4 L761.7,254.2 L776.9,253.3 L794.3,251.6 L820.4,250.2 L846.5,250.1 L883.8,250.6" stroke="#1c966c" stroke-width="2.5"/>
<path d="M655.3,287.6 L666.1,281.5 L674.8,277.1 L683.5,273.3 L692.2,269.3 L700.9,268.1 L709.6,267.5 L719.8,267.0 L734.8,267.3 L752.7,268.5 L760.2,266.5 L769.7,266.8 L779.7,266.5 L789.7,267.2 L799.6,268.5 L809.6,267.5 L819.6,269.0 L823.6,268.0 L831.6,269.0 L839.6,270.0 L844.6,270.5 L854.5,272.0 L864.5,274.0 L868.5,274.5 L871.5,273.5 L874.5,275.0 L879.5,274.8 L883.8,276.8" stroke="#e6a128" stroke-width="2.5"/>
<path d="M655.3,287.6 L666.0,281.5 L674.7,277.1 L683.4,273.6 L692.1,269.2 L700.8,266.5 L709.5,262.8 L726.9,257.4 L744.3,254.5 L759.5,252.2 L761.7,251.8 L776.9,250.8 L794.3,250.3 L820.4,250.1 L846.5,250.1 L883.8,250.6" stroke="#c83c53" stroke-width="2.5"/>
<path d="M655.3,287.3 L657.3,284.3 L659.3,281.3 L661.3,278.3 L663.3,275.3 L665.3,272.3 L667.3,269.2 L669.3,266.2 L671.3,263.2 L673.3,260.1 L675.3,257.1 L677.3,254.0 L679.3,250.9 L681.3,247.8 L683.3,244.7 L685.3,241.6 L687.3,238.4 L689.3,235.3 L691.3,232.1 L693.4,228.9 L695.4,225.8 L697.4,222.7 L699.4,219.6 L701.4,216.6 L703.4,213.6 L705.4,210.8 L707.4,208.0 L709.4,205.3 L711.4,202.7 L713.4,200.1 L715.4,197.6 L717.4,195.1 L719.4,192.7 L721.4,190.3 L723.4,187.9 L725.4,185.5 L727.4,183.1 L729.4,180.8 L731.5,178.5 L733.5,176.2 L735.5,174.0 L737.5,171.9 L739.5,169.8 L741.5,167.9 L743.5,166.0 L745.5,164.2 L747.5,162.4 L749.5,160.8 L751.5,159.1 L753.5,157.6 L755.5,156.0 L757.5,154.5 L759.5,153.0 L761.5,151.5 L763.5,150.0 L765.5,148.6 L767.5,147.1 L769.5,145.7 L771.6,144.3 L773.6,143.0 L775.6,141.7 L777.6,140.4 L779.6,139.1 L781.6,137.9 L783.6,136.7 L785.6,135.6 L787.6,134.5 L789.6,133.4 L791.6,132.4 L793.6,131.4 L795.6,130.4 L797.6,129.5 L799.6,128.6 L801.6,127.8 L803.6,127.0 L805.6,126.2 L807.6,125.5 L809.7,124.7 L811.7,124.1 L813.7,123.4 L815.7,122.7 L817.7,122.1 L819.7,121.5 L821.7,120.8 L823.7,120.2 L825.7,119.6 L827.7,119.0 L829.7,118.4 L831.7,117.8 L833.7,117.2 L835.7,116.6 L837.7,116.0 L839.7,115.4 L841.7,114.8 L843.7,114.3 L845.7,113.7 L847.8,113.2 L849.8,112.7 L851.8,112.2 L853.8,111.8 L855.8,111.4 L857.8,110.9 L859.8,110.5 L861.8,110.2 L863.8,109.8 L865.8,109.5 L867.8,109.1 L869.8,108.8 L871.8,108.5 L873.8,108.2 L875.8,108.0 L877.8,107.7 L879.8,107.5 L881.8,107.2 L883.8,107.0" stroke="#4870b0" stroke-width="2.5"/>
</g>
<line x1="643.8" y1="102.50" x2="643.8" y2="355.98" stroke="#808080" stroke-width="1.55"/>
<line x1="643.02" y1="355.2" x2="895.80" y2="355.2" stroke="#808080" stroke-width="1.55"/>
<line x1="641.2" y1="355.20" x2="643.1" y2="355.20" stroke="#222" stroke-width="0.8"/>
<text class="tk" x="615.1" y="360.6" textLength="22.4" lengthAdjust="spacingAndGlyphs">0.0</text>
<line x1="641.2" y1="304.80" x2="643.1" y2="304.80" stroke="#222" stroke-width="0.8"/>
<text class="tk" x="615.1" y="310.2" textLength="22.4" lengthAdjust="spacingAndGlyphs">0.2</text>
<line x1="641.2" y1="254.40" x2="643.1" y2="254.40" stroke="#222" stroke-width="0.8"/>
<text class="tk" x="615.1" y="259.8" textLength="22.4" lengthAdjust="spacingAndGlyphs">0.4</text>
<line x1="641.2" y1="204.00" x2="643.1" y2="204.00" stroke="#222" stroke-width="0.8"/>
<text class="tk" x="615.1" y="209.4" textLength="22.4" lengthAdjust="spacingAndGlyphs">0.6</text>
<line x1="641.2" y1="153.60" x2="643.1" y2="153.60" stroke="#222" stroke-width="0.8"/>
<text class="tk" x="615.1" y="159.0" textLength="22.4" lengthAdjust="spacingAndGlyphs">0.8</text>
<line x1="641.2" y1="103.20" x2="643.1" y2="103.20" stroke="#222" stroke-width="0.8"/>
<text class="tk" x="615.1" y="108.6" textLength="22.4" lengthAdjust="spacingAndGlyphs">1.0</text>
<line x1="655.3" y1="355.90" x2="655.3" y2="357.60" stroke="#222" stroke-width="0.8"/>
<text class="tk" x="642.8" y="372.4" textLength="18.5" lengthAdjust="spacingAndGlyphs">10</text>
<text class="sup" x="661.0" y="366.7" textLength="6.8" lengthAdjust="spacingAndGlyphs">0</text>
<line x1="712.5" y1="355.90" x2="712.5" y2="357.60" stroke="#222" stroke-width="0.8"/>
<text class="tk" x="700.0" y="372.4" textLength="18.5" lengthAdjust="spacingAndGlyphs">10</text>
<text class="sup" x="718.2" y="366.7" textLength="6.8" lengthAdjust="spacingAndGlyphs">1</text>
<line x1="769.8" y1="355.90" x2="769.8" y2="357.60" stroke="#222" stroke-width="0.8"/>
<text class="tk" x="757.3" y="372.4" textLength="18.5" lengthAdjust="spacingAndGlyphs">10</text>
<text class="sup" x="775.5" y="366.7" textLength="6.8" lengthAdjust="spacingAndGlyphs">2</text>
<line x1="827.1" y1="355.90" x2="827.1" y2="357.60" stroke="#222" stroke-width="0.8"/>
<text class="tk" x="814.6" y="372.4" textLength="18.5" lengthAdjust="spacingAndGlyphs">10</text>
<text class="sup" x="832.8" y="366.7" textLength="6.8" lengthAdjust="spacingAndGlyphs">3</text>
<line x1="884.3" y1="355.90" x2="884.3" y2="357.60" stroke="#222" stroke-width="0.8"/>
<text class="tk" x="871.8" y="372.4" textLength="18.5" lengthAdjust="spacingAndGlyphs">10</text>
<text class="sup" x="890.0" y="366.7" textLength="6.8" lengthAdjust="spacingAndGlyphs">4</text>
<path d="M646.4,355.90v1.1M649.7,355.90v1.1M652.6,355.90v1.1M672.5,355.90v1.1M682.6,355.90v1.1M689.7,355.90v1.1M695.3,355.90v1.1M699.8,355.90v1.1M703.7,355.90v1.1M707.0,355.90v1.1M709.9,355.90v1.1M729.8,355.90v1.1M739.9,355.90v1.1M747.0,355.90v1.1M752.6,355.90v1.1M757.1,355.90v1.1M760.9,355.90v1.1M764.2,355.90v1.1M767.2,355.90v1.1M787.0,355.90v1.1M797.1,355.90v1.1M804.3,355.90v1.1M809.8,355.90v1.1M814.4,355.90v1.1M818.2,355.90v1.1M821.5,355.90v1.1M824.5,355.90v1.1M844.3,355.90v1.1M854.4,355.90v1.1M861.6,355.90v1.1M867.1,355.90v1.1M871.6,355.90v1.1M875.5,355.90v1.1M878.8,355.90v1.1M881.7,355.90v1.1" stroke="#222" stroke-width="0.7" fill="none"/>
<text class="lb" x="769.8" y="391.4" textLength="213" lengthAdjust="spacingAndGlyphs">Number of Samples (k)</text>
</g>
<g id="panel4">
<clipPath id="cp3"><rect x="933.8" y="103.2" width="252" height="252.0"/></clipPath>
<text class="tt" x="1059.4" y="64.4" textLength="208.5" lengthAdjust="spacingAndGlyphs">Llama-3-70B-Instruct</text>
<text class="tt" x="1059.8" y="86.1" textLength="56.8" lengthAdjust="spacingAndGlyphs">MATH</text>
<g clip-path="url(#cp3)" fill="none" stroke-linejoin="round" stroke-linecap="square">
<path d="M945.3,229.8 L948.7,229.9 L952.1,229.2 L955.6,229.9 L959.0,229.6 L962.5,229.9 L966.5,225.2 L969.9,222.4 L973.4,219.3 L977.8,216.7 L982.1,214.1 L986.5,211.9 L990.8,211.5 L995.2,210.9 L999.5,209.6 L1003.0,209.6 L1006.5,208.8 L1009.9,209.2 L1013.4,208.0 L1016.9,207.8 L1020.4,206.7 L1023.9,207.2 L1027.3,206.5 L1030.8,206.7 L1034.3,205.5 L1037.3,205.6 L1040.4,205.3 L1043.4,205.2 L1046.5,205.2 L1049.5,204.2 L1051.7,205.0 L1054.7,204.6 L1057.8,205.1 L1060.8,205.4 L1063.9,205.1 L1066.9,205.5 L1070.4,204.8 L1073.8,205.8 L1077.3,205.8 L1080.8,206.5 L1084.3,206.1 L1087.5,206.6 L1090.8,206.5 L1094.1,207.2 L1097.3,207.0 L1100.6,207.2 L1103.8,207.0 L1107.1,207.2 L1110.4,207.3 L1113.6,207.5 L1116.9,207.6 L1120.2,207.7 L1123.4,208.0 L1126.7,208.2 L1129.9,208.5 L1133.2,208.5 L1136.5,208.7 L1139.9,208.7 L1143.4,209.1 L1146.9,209.1 L1150.4,209.4 L1153.8,209.3 L1157.2,209.7 L1160.5,209.9 L1163.8,210.3 L1167.2,210.4 L1170.5,210.7 L1173.8,210.9 L1173.8,211.8 L1170.5,211.7 L1167.2,211.4 L1163.8,211.4 L1160.5,211.0 L1157.2,210.9 L1153.8,210.5 L1150.4,210.6 L1146.9,210.3 L1143.4,210.3 L1139.9,210.0 L1136.5,210.0 L1133.2,209.8 L1129.9,209.9 L1126.7,209.6 L1123.4,209.6 L1120.2,209.4 L1116.9,209.5 L1113.6,209.5 L1110.4,209.3 L1107.1,209.4 L1103.8,209.2 L1100.6,209.6 L1097.3,209.5 L1094.1,209.8 L1090.8,209.6 L1087.5,210.1 L1084.3,210.0 L1080.8,210.9 L1077.3,210.6 L1073.8,211.1 L1070.4,210.6 L1066.9,211.6 L1063.9,211.4 L1060.8,211.8 L1057.8,211.5 L1054.7,211.2 L1051.7,211.7 L1049.5,211.0 L1046.5,212.2 L1043.4,212.3 L1040.4,212.5 L1037.3,213.0 L1034.3,213.0 L1030.8,214.4 L1027.3,214.4 L1023.9,215.2 L1020.4,214.9 L1016.9,216.1 L1013.4,216.5 L1009.9,217.9 L1006.5,217.8 L1003.0,219.0 L999.5,219.4 L995.2,221.3 L990.8,222.4 L986.5,223.4 L982.1,226.0 L977.8,228.7 L973.4,231.3 L969.9,234.4 L966.5,237.2 L962.5,241.9 L959.0,241.6 L955.6,241.9 L952.1,241.2 L948.7,241.9 L945.3,241.8Z" fill="#1c966c" fill-opacity="0.2" stroke="none"/>
<path d="M945.3,229.8 L948.8,227.9 L952.4,225.4 L956.0,223.9 L960.4,222.4 L964.7,219.9 L969.1,219.0 L973.4,217.5 L977.8,217.2 L982.1,216.7 L986.5,215.6 L990.8,216.1 L995.2,215.5 L999.5,214.0 L1003.9,215.0 L1008.2,215.4 L1011.3,216.1 L1014.3,215.5 L1017.3,216.1 L1020.4,215.5 L1024.7,215.8 L1029.1,214.8 L1032.1,215.4 L1035.2,214.8 L1038.2,215.8 L1041.3,215.7 L1045.4,216.4 L1049.5,215.4 L1053.8,215.2 L1058.2,215.1 L1061.7,215.4 L1065.2,216.0 L1068.6,215.8 L1072.1,216.5 L1075.6,216.9 L1079.1,217.8 L1082.5,217.7 L1086.0,218.1 L1089.5,218.3 L1093.0,219.2 L1098.2,217.3 L1101.7,218.5 L1105.2,218.5 L1108.6,218.6 L1112.1,219.1 L1115.6,220.7 L1119.1,220.6 L1122.5,221.7 L1126.0,221.6 L1129.5,223.0 L1133.0,222.7 L1136.5,223.6 L1140.8,223.6 L1145.2,224.7 L1149.5,225.1 L1153.8,224.2 L1157.3,224.9 L1160.8,224.7 L1164.3,225.8 L1167.8,223.2 L1170.8,224.3 L1173.8,224.3 L1173.8,230.3 L1170.8,230.8 L1167.8,230.1 L1164.3,233.2 L1160.8,232.7 L1157.3,233.4 L1153.8,232.8 L1149.5,234.1 L1145.2,234.0 L1140.8,233.2 L1136.5,233.4 L1133.0,232.8 L1129.5,233.3 L1126.0,232.1 L1122.5,232.2 L1119.1,231.2 L1115.6,231.3 L1112.1,229.8 L1108.6,229.4 L1105.2,229.4 L1101.7,229.4 L1098.2,228.3 L1093.0,230.3 L1089.5,229.4 L1086.0,229.4 L1082.5,229.1 L1079.1,229.3 L1075.6,228.5 L1072.1,228.2 L1068.6,227.6 L1065.2,227.9 L1061.7,227.5 L1058.2,227.3 L1053.8,227.5 L1049.5,227.8 L1045.4,228.9 L1041.3,228.3 L1038.2,228.3 L1035.2,227.3 L1032.1,227.9 L1029.1,227.3 L1024.7,228.3 L1020.4,227.9 L1017.3,228.4 L1014.3,227.8 L1011.3,228.4 L1008.2,227.6 L1003.9,227.2 L999.5,226.2 L995.2,227.6 L990.8,228.2 L986.5,227.6 L982.1,228.7 L977.8,229.2 L973.4,229.5 L969.1,231.0 L964.7,231.9 L960.4,234.4 L956.0,235.9 L952.4,237.4 L948.8,239.9 L945.3,241.8Z" fill="#e6a128" fill-opacity="0.2" stroke="none"/>
<path d="M945.3,229.8 L948.8,227.6 L952.4,224.8 L956.0,223.0 L960.4,221.6 L964.7,219.1 L969.1,217.9 L973.4,216.1 L976.9,215.0 L980.4,212.8 L985.6,209.2 L990.8,209.5 L995.2,209.1 L999.5,207.8 L1003.0,207.9 L1006.5,207.2 L1009.9,207.8 L1013.4,206.7 L1016.9,206.5 L1020.4,205.5 L1023.9,206.1 L1027.3,205.5 L1030.8,205.7 L1034.3,204.5 L1037.3,204.7 L1040.4,204.5 L1043.4,204.5 L1046.5,204.6 L1049.5,203.6 L1051.7,204.4 L1055.2,203.9 L1058.6,204.8 L1062.1,204.6 L1066.9,205.1 L1070.4,204.5 L1073.8,205.5 L1077.3,205.4 L1080.8,206.1 L1084.3,205.7 L1087.5,206.2 L1090.8,206.0 L1094.1,206.6 L1097.3,206.3 L1100.6,206.5 L1103.8,206.2 L1107.1,206.3 L1110.4,206.3 L1113.6,206.4 L1116.9,206.3 L1120.2,206.2 L1123.4,206.3 L1126.7,206.3 L1129.9,206.4 L1133.2,206.2 L1136.5,206.3 L1139.9,206.0 L1143.4,206.0 L1146.9,205.8 L1150.4,205.7 L1153.8,205.4 L1157.2,205.7 L1160.5,205.8 L1163.8,206.1 L1167.2,206.2 L1170.5,206.4 L1173.8,206.5 L1173.8,207.5 L1170.5,207.4 L1167.2,207.2 L1163.8,207.2 L1160.5,206.9 L1157.2,206.9 L1153.8,206.6 L1150.4,206.9 L1146.9,207.0 L1143.4,207.3 L1139.9,207.3 L1136.5,207.6 L1133.2,207.6 L1129.9,207.8 L1126.7,207.8 L1123.4,207.9 L1120.2,207.9 L1116.9,208.2 L1113.6,208.3 L1110.4,208.4 L1107.1,208.5 L1103.8,208.4 L1100.6,208.9 L1097.3,208.9 L1094.1,209.3 L1090.8,209.1 L1087.5,209.7 L1084.3,209.6 L1080.8,210.5 L1077.3,210.3 L1073.8,210.8 L1070.4,210.3 L1066.9,211.2 L1062.1,210.9 L1058.6,211.3 L1055.2,210.5 L1051.7,211.1 L1049.5,210.5 L1046.5,211.6 L1043.4,211.6 L1040.4,211.7 L1037.3,212.1 L1034.3,212.1 L1030.8,213.4 L1027.3,213.3 L1023.9,214.1 L1020.4,213.7 L1016.9,214.8 L1013.4,215.1 L1009.9,216.4 L1006.5,216.2 L1003.0,217.3 L999.5,217.6 L995.2,219.4 L990.8,220.4 L985.6,220.7 L980.4,224.8 L976.9,227.0 L973.4,228.1 L969.1,229.9 L964.7,231.1 L960.4,233.6 L956.0,235.0 L952.4,236.8 L948.8,239.6 L945.3,241.8Z" fill="#c83c53" fill-opacity="0.2" stroke="none"/>
<path d="M945.3,235.9 L962.5,235.5 L966.5,231.5 L973.4,225.4 L982.1,219.8 L990.8,216.7 L999.5,214.9 L1016.9,211.8 L1034.3,209.7 L1049.5,207.9 L1051.7,208.3 L1066.9,208.3 L1084.3,208.3 L1110.4,208.3 L1136.5,209.3 L1153.8,210.0 L1173.8,211.4" stroke="#1c966c" stroke-width="2.5"/>
<path d="M945.3,235.9 L956.0,229.8 L964.7,226.3 L973.4,223.6 L982.1,222.4 L990.8,221.9 L999.5,220.5 L1008.2,221.5 L1020.4,222.2 L1029.1,221.0 L1041.3,222.2 L1049.5,221.9 L1058.2,221.0 L1075.6,222.8 L1093.0,224.5 L1098.2,222.9 L1105.2,224.5 L1108.6,223.6 L1119.1,226.4 L1136.5,228.4 L1145.2,229.2 L1153.8,229.1 L1164.3,228.9 L1167.8,227.0 L1173.8,227.8" stroke="#e6a128" stroke-width="2.5"/>
<path d="M945.3,235.9 L956.0,228.9 L964.7,225.5 L973.4,222.2 L980.4,218.9 L985.6,215.5 L990.8,214.7 L999.5,213.1 L1016.9,210.5 L1034.3,208.8 L1049.5,207.4 L1051.7,207.6 L1062.1,207.7 L1066.9,207.9 L1084.3,207.9 L1110.4,207.3 L1136.5,206.9 L1153.8,206.1 L1173.8,207.1" stroke="#c83c53" stroke-width="2.5"/>
<path d="M945.3,235.2 L947.3,232.1 L949.3,229.1 L951.3,226.0 L953.3,223.1 L955.3,220.1 L957.3,217.2 L959.3,214.4 L961.3,211.6 L963.3,208.9 L965.3,206.3 L967.3,203.7 L969.3,201.1 L971.3,198.5 L973.3,196.0 L975.3,193.6 L977.3,191.1 L979.3,188.7 L981.3,186.3 L983.4,184.0 L985.4,181.6 L987.4,179.3 L989.4,177.0 L991.4,174.8 L993.4,172.5 L995.4,170.3 L997.4,168.2 L999.4,166.0 L1001.4,163.9 L1003.4,161.8 L1005.4,159.7 L1007.4,157.7 L1009.4,155.7 L1011.4,153.7 L1013.4,151.8 L1015.4,149.9 L1017.4,148.1 L1019.4,146.3 L1021.5,144.6 L1023.5,142.9 L1025.5,141.4 L1027.5,139.8 L1029.5,138.4 L1031.5,137.0 L1033.5,135.6 L1035.5,134.4 L1037.5,133.1 L1039.5,131.9 L1041.5,130.8 L1043.5,129.6 L1045.5,128.6 L1047.5,127.5 L1049.5,126.5 L1051.5,125.6 L1053.5,124.6 L1055.5,123.7 L1057.5,122.9 L1059.5,122.1 L1061.6,121.3 L1063.6,120.6 L1065.6,119.9 L1067.6,119.2 L1069.6,118.6 L1071.6,118.1 L1073.6,117.5 L1075.6,117.0 L1077.6,116.5 L1079.6,116.0 L1081.6,115.5 L1083.6,115.1 L1085.6,114.7 L1087.6,114.3 L1089.6,113.9 L1091.6,113.5 L1093.6,113.2 L1095.6,112.8 L1097.6,112.5 L1099.7,112.2 L1101.7,111.9 L1103.7,111.6 L1105.7,111.4 L1107.7,111.2 L1109.7,110.9 L1111.7,110.8 L1113.7,110.6 L1115.7,110.4 L1117.7,110.2 L1119.7,110.1 L1121.7,110.0 L1123.7,109.8 L1125.7,109.7 L1127.7,109.5 L1129.7,109.4 L1131.7,109.3 L1133.7,109.2 L1135.7,109.0 L1137.8,108.9 L1139.8,108.8 L1141.8,108.7 L1143.8,108.5 L1145.8,108.4 L1147.8,108.3 L1149.8,108.2 L1151.8,108.1 L1153.8,108.0 L1155.8,107.9 L1157.8,107.8 L1159.8,107.7 L1161.8,107.6 L1163.8,107.5 L1165.8,107.4 L1167.8,107.3 L1169.8,107.2 L1171.8,107.1 L1173.8,107.0" stroke="#4870b0" stroke-width="2.5"/>
</g>
<line x1="933.8" y1="102.50" x2="933.8" y2="355.98" stroke="#808080" stroke-width="1.55"/>
<line x1="933.02" y1="355.2" x2="1185.80" y2="355.2" stroke="#808080" stroke-width="1.55"/>
<line x1="931.2" y1="355.20" x2="933.1" y2="355.20" stroke="#222" stroke-width="0.8"/>
<text class="tk" x="905.1" y="360.6" textLength="22.4" lengthAdjust="spacingAndGlyphs">0.0</text>
<line x1="931.2" y1="304.80" x2="933.1" y2="304.80" stroke="#222" stroke-width="0.8"/>
<text class="tk" x="905.1" y="310.2" textLength="22.4" lengthAdjust="spacingAndGlyphs">0.2</text>
<line x1="931.2" y1="254.40" x2="933.1" y2="254.40" stroke="#222" stroke-width="0.8"/>
<text class="tk" x="905.1" y="259.8" textLength="22.4" lengthAdjust="spacingAndGlyphs">0.4</text>
<line x1="931.2" y1="204.00" x2="933.1" y2="204.00" stroke="#222" stroke-width="0.8"/>
<text class="tk" x="905.1" y="209.4" textLength="22.4" lengthAdjust="spacingAndGlyphs">0.6</text>
<line x1="931.2" y1="153.60" x2="933.1" y2="153.60" stroke="#222" stroke-width="0.8"/>
<text class="tk" x="905.1" y="159.0" textLength="22.4" lengthAdjust="spacingAndGlyphs">0.8</text>
<line x1="931.2" y1="103.20" x2="933.1" y2="103.20" stroke="#222" stroke-width="0.8"/>
<text class="tk" x="905.1" y="108.6" textLength="22.4" lengthAdjust="spacingAndGlyphs">1.0</text>
<line x1="945.3" y1="355.90" x2="945.3" y2="357.60" stroke="#222" stroke-width="0.8"/>
<text class="tk" x="932.8" y="372.4" textLength="18.5" lengthAdjust="spacingAndGlyphs">10</text>
<text class="sup" x="951.0" y="366.7" textLength="6.8" lengthAdjust="spacingAndGlyphs">0</text>
<line x1="1002.5" y1="355.90" x2="1002.5" y2="357.60" stroke="#222" stroke-width="0.8"/>
<text class="tk" x="990.0" y="372.4" textLength="18.5" lengthAdjust="spacingAndGlyphs">10</text>
<text class="sup" x="1008.2" y="366.7" textLength="6.8" lengthAdjust="spacingAndGlyphs">1</text>
<line x1="1059.8" y1="355.90" x2="1059.8" y2="357.60" stroke="#222" stroke-width="0.8"/>
<text class="tk" x="1047.3" y="372.4" textLength="18.5" lengthAdjust="spacingAndGlyphs">10</text>
<text class="sup" x="1065.5" y="366.7" textLength="6.8" lengthAdjust="spacingAndGlyphs">2</text>
<line x1="1117.1" y1="355.90" x2="1117.1" y2="357.60" stroke="#222" stroke-width="0.8"/>
<text class="tk" x="1104.6" y="372.4" textLength="18.5" lengthAdjust="spacingAndGlyphs">10</text>
<text class="sup" x="1122.8" y="366.7" textLength="6.8" lengthAdjust="spacingAndGlyphs">3</text>
<line x1="1174.3" y1="355.90" x2="1174.3" y2="357.60" stroke="#222" stroke-width="0.8"/>
<text class="tk" x="1161.8" y="372.4" textLength="18.5" lengthAdjust="spacingAndGlyphs">10</text>
<text class="sup" x="1180.0" y="366.7" textLength="6.8" lengthAdjust="spacingAndGlyphs">4</text>
<path d="M936.4,355.90v1.1M939.7,355.90v1.1M942.6,355.90v1.1M962.5,355.90v1.1M972.6,355.90v1.1M979.7,355.90v1.1M985.3,355.90v1.1M989.8,355.90v1.1M993.7,355.90v1.1M997.0,355.90v1.1M999.9,355.90v1.1M1019.8,355.90v1.1M1029.9,355.90v1.1M1037.0,355.90v1.1M1042.6,355.90v1.1M1047.1,355.90v1.1M1050.9,355.90v1.1M1054.2,355.90v1.1M1057.2,355.90v1.1M1077.0,355.90v1.1M1087.1,355.90v1.1M1094.3,355.90v1.1M1099.8,355.90v1.1M1104.4,355.90v1.1M1108.2,355.90v1.1M1111.5,355.90v1.1M1114.5,355.90v1.1M1134.3,355.90v1.1M1144.4,355.90v1.1M1151.6,355.90v1.1M1157.1,355.90v1.1M1161.6,355.90v1.1M1165.5,355.90v1.1M1168.8,355.90v1.1M1171.7,355.90v1.1" stroke="#222" stroke-width="0.7" fill="none"/>
<text class="lb" x="1059.8" y="391.4" textLength="213" lengthAdjust="spacingAndGlyphs">Number of Samples (k)</text>
</g>
<text class="lb" transform="translate(27.2,228.6) rotate(-90)" x="0" y="0" textLength="122" lengthAdjust="spacingAndGlyphs">Success Rate</text>
</svg></body></html>
